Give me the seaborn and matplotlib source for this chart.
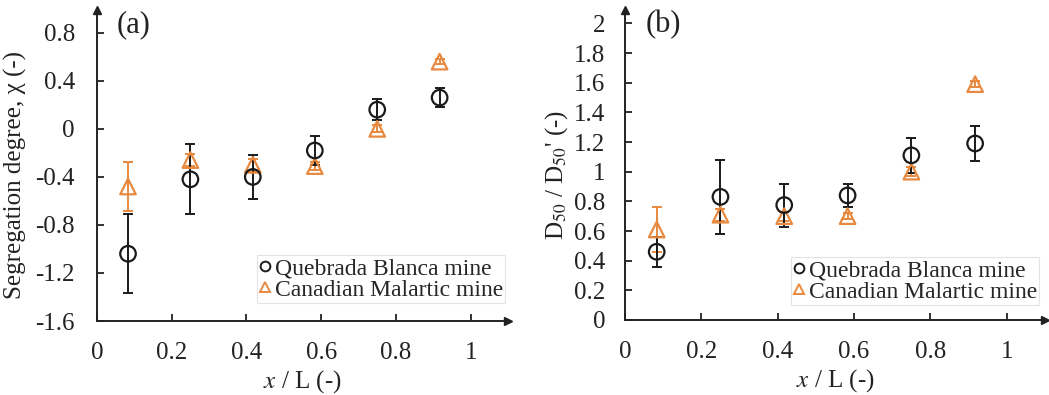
import numpy as np
import pandas as pd
import matplotlib
matplotlib.use("Agg")
import matplotlib.pyplot as plt
import seaborn as sns

sns.set_theme(style="ticks")
plt.rcParams["font.family"] = ["Liberation Serif", "DejaVu Serif"]
plt.rcParams["mathtext.fontset"] = "stix"

# Dimensionless position along the pile
x_pos = [0.083, 0.25, 0.417, 0.583, 0.75, 0.917]

# (a) Segregation degree
seg_qb = [-1.04, -0.42, -0.40, -0.18, 0.16, 0.26]
seg_qb_err = [0.33, 0.29, 0.18, 0.12, 0.09, 0.08]
seg_cm = [-0.48, -0.26, -0.30, -0.31, 0.00, 0.56]
seg_cm_err = [0.20, 0.05, 0.05, 0.03, 0.03, 0.02]

# (b) Normalised median particle size
d50_qb = [0.46, 0.83, 0.775, 0.84, 1.11, 1.19]
d50_qb_err = [0.10, 0.25, 0.145, 0.08, 0.12, 0.12]
d50_cm = [0.61, 0.71, 0.70, 0.70, 1.00, 1.59]
d50_cm_err = [0.15, 0.04, 0.03, 0.02, 0.03, 0.02]

series_names = ["Quebrada Blanca mine", "Canadian Malartic mine"]
x_ticks = [0, 0.2, 0.4, 0.6, 0.8, 1]
x_ticklabels = ["0", "0.2", "0.4", "0.6", "0.8", "1"]
a_yticks = [-1.6, -1.2, -0.8, -0.4, 0, 0.4, 0.8]
a_yticklabels = ["-1.6", "-1.2", "-0.8", "-0.4", "0", "0.4", "0.8"]
b_yticks = [0, 0.2, 0.4, 0.6, 0.8, 1, 1.2, 1.4, 1.6, 1.8, 2]
b_yticklabels = ["0", "0.2", "0.4", "0.6", "0.8", "1", "1.2", "1.4", "1.6", "1.8", "2"]

BLACK = "#1a1a1a"
ORANGE = "#E8893F"
TXT = "#222222"
W, H = 1049, 395
FS = 18
LEG_FS = 17

fig = plt.figure(figsize=(W / 100, H / 100), dpi=100)


def px_axes(left, right, top, bottom):
    return fig.add_axes([left / W, 1 - bottom / H, (right - left) / W, (bottom - top) / H])


def draw_panel(ax, qb, qb_err, cm, cm_err, ypad, leg_anchor):
    df = pd.DataFrame({
        "x": x_pos * 2,
        "y": qb + cm,
        "err": qb_err + cm_err,
        "mine": [series_names[0]] * 6 + [series_names[1]] * 6,
    })
    styles = {series_names[0]: (BLACK, "o"), series_names[1]: (ORANGE, "^")}
    for name in [series_names[1], series_names[0]]:
        sub = df[df["mine"] == name]
        col, mk = styles[name]
        ax.errorbar(sub["x"], sub["y"], yerr=sub["err"], fmt="none",
                    ecolor=col, elinewidth=1.4, capsize=3.5, capthick=1.4, zorder=2)
        sns.scatterplot(data=sub, x="x", y="y", marker=mk, s=125,
                        facecolors="none", edgecolor=col, linewidth=1.6,
                        ax=ax, zorder=3, legend=False)
    for side in ["top", "right"]:
        ax.spines[side].set_visible(False)
    for side in ["left", "bottom"]:
        ax.spines[side].set_linewidth(1.4)
        ax.spines[side].set_color(TXT)
    # arrow heads at the ends of both axes
    ax.plot(1, 0, ">", color=TXT, ms=6, transform=ax.transAxes, clip_on=False)
    ax.plot(0, 1, "^", color=TXT, ms=6, transform=ax.transAxes, clip_on=False)
    ax.tick_params(direction="in", length=5, width=1.3, colors=TXT,
                   labelsize=FS, labelcolor=TXT)
    ax.tick_params(axis="x", pad=15)
    ax.tick_params(axis="y", pad=ypad)
    ax.set_xlim(0, 1.1)
    ax.set_xticks(x_ticks)
    ax.set_xticklabels(x_ticklabels)
    ax.set_xlabel("$x$ / L (-)", fontsize=FS, color=TXT, labelpad=3)
    # legend built from proxy markers
    handles = [
        plt.Line2D([], [], ls="none", marker="o", mfc="none", mec=BLACK, mew=1.4, ms=7),
        plt.Line2D([], [], ls="none", marker="^", mfc="none", mec=ORANGE, mew=1.4, ms=7),
    ]
    leg = ax.legend(handles, series_names, loc="lower right", bbox_to_anchor=leg_anchor,
                    fontsize=LEG_FS, frameon=True, fancybox=False, handlelength=0.5,
                    handletextpad=0.15, borderpad=0.1, labelspacing=0.0,
                    borderaxespad=0.0)
    leg.get_frame().set_edgecolor("#dddddd")
    leg.get_frame().set_linewidth(0.8)


a_left, a_right, a_top, a_bottom = 97, 508, 10, 321
ax_a = px_axes(a_left, a_right, a_top, a_bottom)
draw_panel(ax_a, seg_qb, seg_qb_err, seg_cm, seg_cm_err, 16, (0.993, 0.058))
ax_a.set_ylim(-1.6, 0.99)
ax_a.set_yticks(a_yticks)
ax_a.set_yticklabels(a_yticklabels)
ax_a.set_ylabel("Segregation degree, χ (-)", fontsize=FS, color=TXT)
ax_a.yaxis.set_label_coords((27 - a_left) / (a_right - a_left), (a_bottom - 175) / (a_bottom - a_top))
ax_a.text(0.048, 1.0, "(a)", transform=ax_a.transAxes, fontsize=22, va="top", ha="left",
          color=TXT)

b_left, b_right, b_top, b_bottom = 625, 1045, 10, 320
ax_b = px_axes(b_left, b_right, b_top, b_bottom)
draw_panel(ax_b, d50_qb, d50_qb_err, d50_cm, d50_cm_err, 14, (0.986, 0.048))
ax_b.set_ylim(0, 2.09)
ax_b.set_yticks(b_yticks)
ax_b.set_yticklabels(b_yticklabels)
ax_b.set_ylabel("D$_{50}$ / D$_{50}$' (-)", fontsize=FS, color=TXT)
ax_b.yaxis.set_label_coords((570 - b_left) / (b_right - b_left), (b_bottom - 175) / (b_bottom - b_top))
ax_b.text(0.05, 1.0, "(b)", transform=ax_b.transAxes, fontsize=22, va="top", ha="left",
          color=TXT)

fig.savefig("out.png", dpi=100, facecolor="white")
